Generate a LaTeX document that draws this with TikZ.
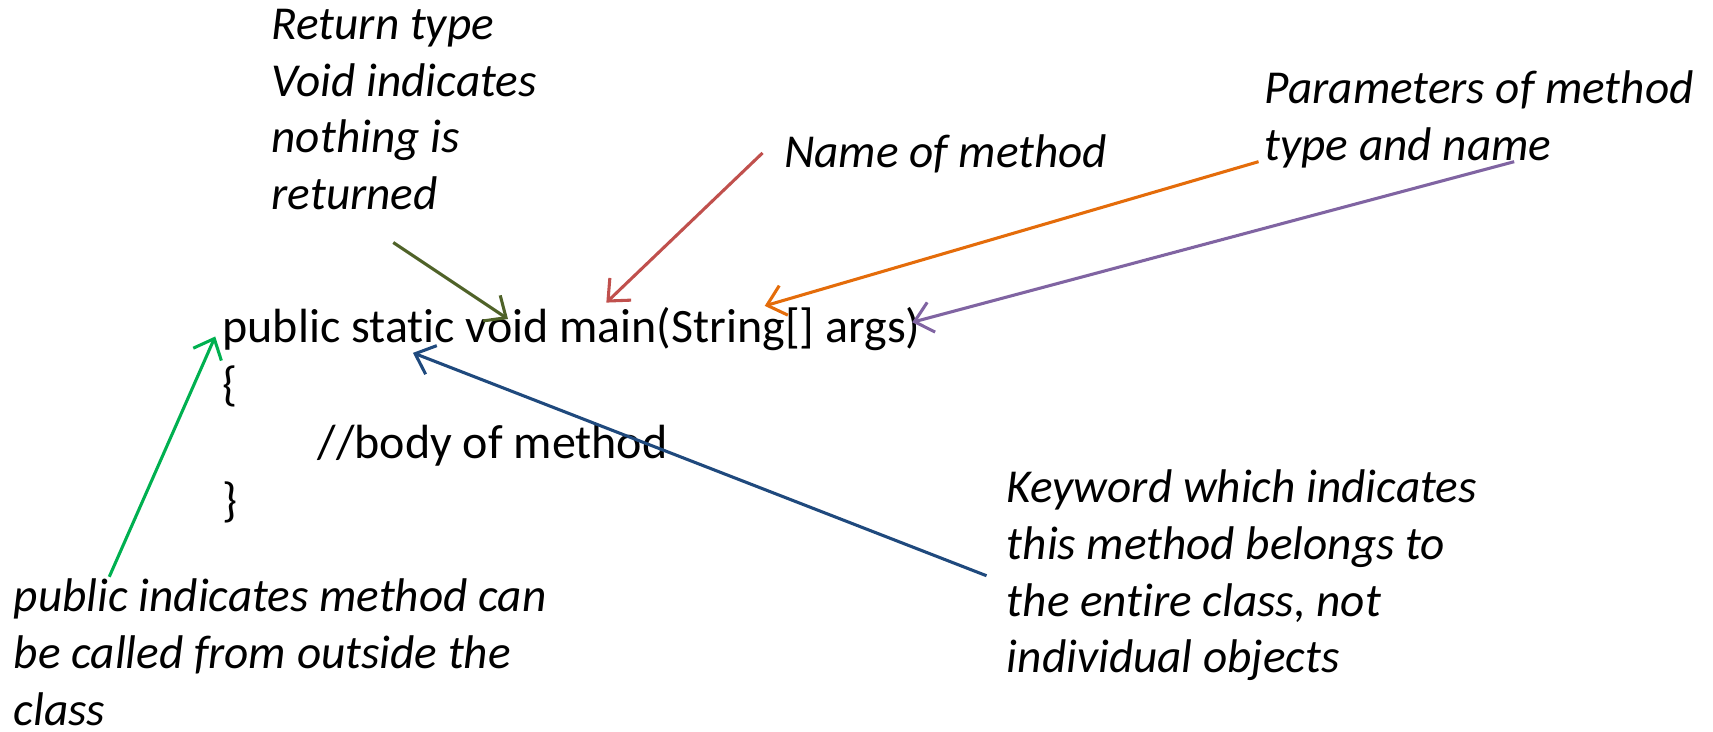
\documentclass[tikz,border=0pt]{standalone}
\usepackage{fontspec}
\setmainfont{Carlito}[Ligatures=NoCommon]
\usetikzlibrary{arrows.meta}

\definecolor{retcol}{HTML}{4F6228}
\definecolor{namecol}{HTML}{C0504D}
\definecolor{parcol}{HTML}{E46C0A}
\definecolor{argcol}{HTML}{8064A2}
\definecolor{statcol}{HTML}{1F497D}
\definecolor{pubcol}{HTML}{00B050}

\newcommand{\mcode}{\fontsize{12.5}{15.1}\selectfont}
\newcommand{\mnote}{\fontsize{12.3}{14.8}\selectfont\itshape}

\tikzset{
    code/.style={font=\mcode, align=left, anchor=base west, inner sep=0pt},
    note/.style={font=\mnote, align=left, anchor=base west, inner sep=0pt},
    pointer/.style={line width=0.8pt, -{Straight Barb[length=4.5pt,width=8pt]}}
}

\begin{document}
\begin{tikzpicture}
    \useasboundingbox (0,0) rectangle (15.68,6.70);

    % the method (placed by its last line)
    \node[code] (method) at (2.03, 1.97) {public static void main(String[] args)\\
        \{\\
        \hspace*{0.87cm}//body of method\\
        \}};

    % the notes (placed by their last lines)
    \node[note] (ret) at (2.48, 4.78) {Return type\\Void indicates\\nothing is\\returned};
    \node[note] (name) at (7.17, 5.17) {Name of method};
    \node[note] (params) at (11.57, 5.23) {Parameters of method\\type and name};
    \node[note] (keyword) at (9.21, 0.54) {Keyword which indicates\\this method belongs to\\the entire class, not\\individual objects};
    \node[note] (public) at (0.12, 0.06) {public indicates method can\\be called from outside the\\class};

    % ends of the pointers
    \coordinate (retA) at (3.60, 4.48);
    \coordinate (retB) at (4.65, 3.78);
    \coordinate (nameA) at (6.98, 5.30);
    \coordinate (nameB) at (5.55, 3.93);
    \coordinate (parA) at (11.52, 5.22);
    \coordinate (parB) at (7.00, 3.90);
    \coordinate (argA) at (13.86, 5.22);
    \coordinate (argB) at (8.35, 3.75);
    \coordinate (statA) at (9.03, 1.43);
    \coordinate (statB) at (3.78, 3.47);
    \coordinate (pubA) at (1.00, 1.42);
    \coordinate (pubB) at (1.97, 3.62);

    \draw[pointer, retcol] (retA) -- (retB);
    \draw[pointer, namecol] (nameA) -- (nameB);
    \draw[pointer, parcol] (parA) -- (parB);
    \draw[pointer, argcol] (argA) -- (argB);
    \draw[pointer, statcol] (statA) -- (statB);
    \draw[pointer, pubcol] (pubA) -- (pubB);
\end{tikzpicture}
\end{document}
